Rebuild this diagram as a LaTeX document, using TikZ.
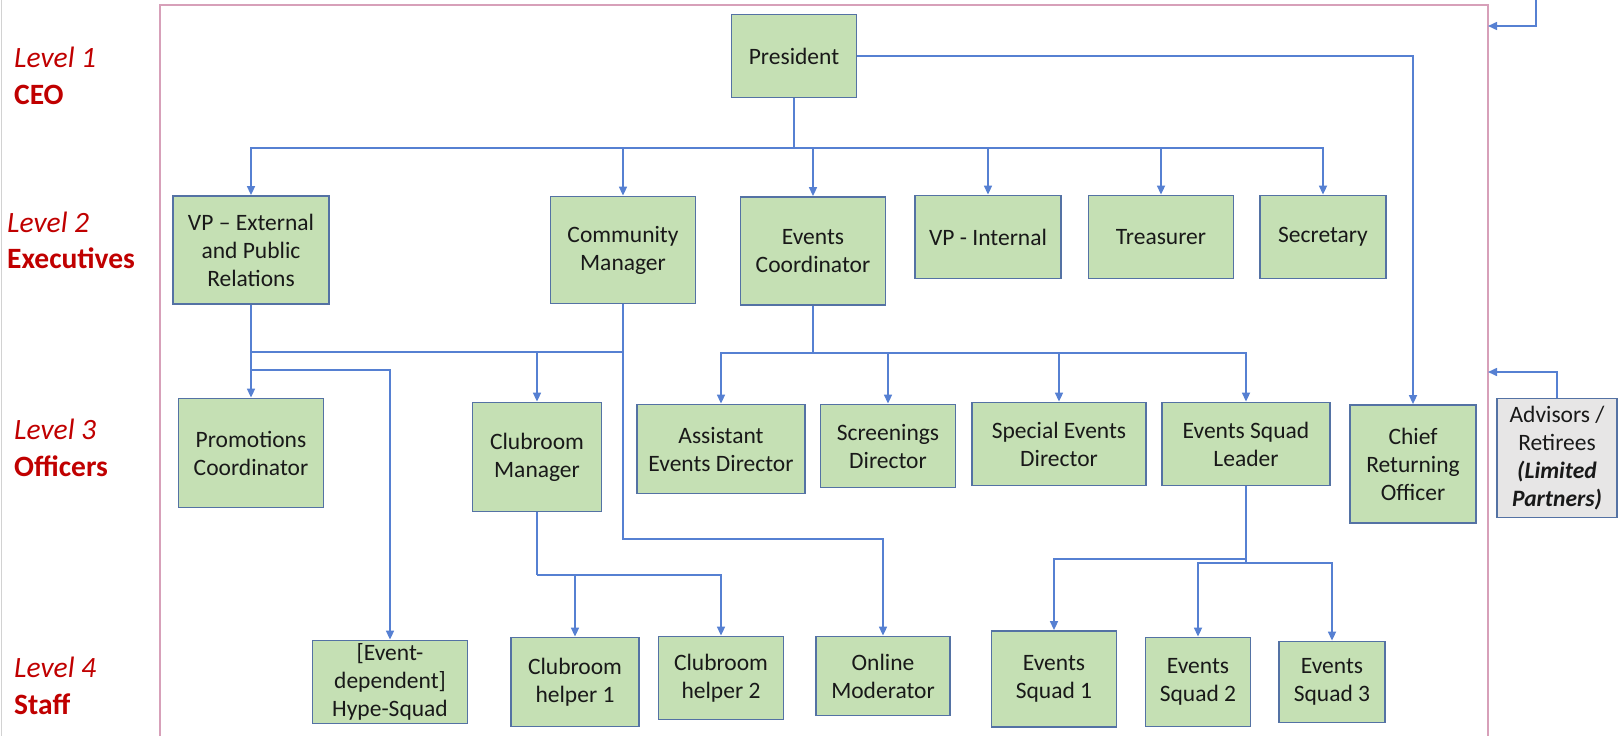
\documentclass[tikz,border=0pt]{standalone}
\usepackage{fontspec}
\setmainfont{Carlito}
\usetikzlibrary{arrows.meta}
\definecolor{postfill}{RGB}{197,224,180}
\definecolor{postline}{RGB}{84,114,164}
\definecolor{advfill}{RGB}{231,230,230}
\definecolor{wireblue}{RGB}{86,128,210}
\definecolor{framepink}{RGB}{215,160,185}
\definecolor{levelred}{RGB}{192,0,0}
\tikzset{
	post/.style={draw=postline,fill=postfill,line width=1.8pt,inner sep=0pt,align=center,font=\fontsize{23.5}{28}\selectfont,text=black!90},%
	advisor/.style={post,fill=advfill},%
	boxdim/.style 2 args={minimum width=#1pt,minimum height=#2pt},%
	wire/.style={wireblue,line width=1.6pt},%
	conn/.style={wire,-{Triangle[length=9pt,width=8pt]}},%
	frame/.style={framepink,line width=2pt},%
	levelno/.style={levelred,anchor=base west,inner sep=0pt,font=\fontsize{29.5}{35}\selectfont\itshape},%
	levelname/.style={levelred,anchor=base west,inner sep=0pt,font=\fontsize{29.5}{35}\selectfont\bfseries},%
}

\begin{document}
\begin{tikzpicture}[x=1pt,y=-1pt]
	\useasboundingbox (0,0) rectangle (1619,736);
	\draw[gray!35,line width=1pt] (1,0) -- (1,736);
	% Frame {{{
	\draw[frame] (160,736) -- (160,5) -- (1488,5) -- (1488,736);
	% }}}
	% Levels {{{
	\node[levelno] (lvA) at (14,67) {Level 1};
	\node[levelname] (rlA) at (14,104) {CEO};
	\node[levelno] (lvB) at (7,232) {Level 2};
	\node[levelname] (rlB) at (7,268) {Executives};
	\node[levelno] (lvC) at (14,439) {Level 3};
	\node[levelname] (rlC) at (14,476) {Officers};
	\node[levelno] (lvD) at (14,677) {Level 4};
	\node[levelname] (rlD) at (14,714) {Staff};
	% }}}
	% Posts {{{
	\node[post,boxdim={125}{83}] (pres) at (794,56) {President};
	\node[post,boxdim={156}{108}] (vpext) at (251,250) {VP -- External\\and Public\\Relations};
	\node[post,boxdim={145}{107}] (comm) at (623,250) {Community\\Manager};
	\node[post,boxdim={145}{108}] (evco) at (813,251) {Events\\Coordinator};
	\node[post,boxdim={146}{83}] (vpint) at (988,237) {VP - Internal};
	\node[post,boxdim={145}{83}] (treas) at (1161,237) {Treasurer};
	\node[post,boxdim={126}{83}] (secr) at (1323,237) {Secretary};
	\node[post,boxdim={145}{109}] (promo) at (251,453) {Promotions\\Coordinator};
	\node[post,boxdim={129}{109}] (cmgr) at (537,457) {Clubroom\\Manager};
	\node[post,boxdim={168}{89}] (aed) at (721,449) {Assistant\\Events Director};
	\node[post,boxdim={135}{83}] (scr) at (888,446) {Screenings\\Director};
	\node[post,boxdim={174}{83}] (sed) at (1059,444) {Special Events\\Director};
	\node[post,boxdim={168}{83}] (esl) at (1246,444) {Events Squad\\Leader};
	\node[post,boxdim={126}{118}] (cro) at (1413,464) {Chief\\Returning\\Officer};
	\node[advisor,boxdim={120}{119}] (adv) at (1557,458) {Advisors /\\Retirees\\\textbf{\textit{(Limited}}\\\textbf{\textit{Partners)}}};
	\node[post,boxdim={155}{83}] (hype) at (390,682) {{[}Event-\\dependent{]}\\Hype-Squad};
	\node[post,boxdim={128}{89}] (help1) at (575,682) {Clubroom\\helper 1};
	\node[post,boxdim={125}{83}] (help2) at (721,678) {Clubroom\\helper 2};
	\node[post,boxdim={134}{79}] (onmod) at (883,676) {Online\\Moderator};
	\node[post,boxdim={125}{96}] (sq1) at (1054,679) {Events\\Squad 1};
	\node[post,boxdim={105}{89}] (sq2) at (1198,682) {Events\\Squad 2};
	\node[post,boxdim={106}{81}] (sq3) at (1332,682) {Events\\Squad 3};
	% }}}
	% President {{{
	\coordinate (jp) at (794,148);
	\draw[wire,line width=2pt] (pres.south) -- (jp);
	\foreach \n in {vpext,comm,evco,vpint,treas,secr}
		\draw[conn] (jp) -| (\n.north);
	\draw[conn] (pres.east) -| (cro.north);
	% }}}
	% VP and community {{{
	\coordinate (jv) at (623,352);
	\coordinate (jh) at (390,370);
	\coordinate (jm) at (623,539);
	\draw[wire] (vpext.south) |- (jv);
	\draw[conn] (vpext.south) -- (promo.north);
	\draw[conn] (vpext.south) |- (jh) -- (hype.north);
	\draw[conn] (jv) -| (cmgr.north);
	\draw[conn] (comm.south) -- (jm) -| (onmod.north);
	% }}}
	% Events {{{
	\coordinate (je) at (813,353);
	\draw[wire] (evco.south) -- (je);
	\foreach \n in {aed,scr,sed,esl}
		\draw[conn] (je) -| (\n.north);
	\coordinate (js) at (1246,559);
	\coordinate (jt) at (1246,563);
	\draw[wire] (esl.south) -- (jt);
	\draw[conn] (js) -| (sq1.north);
	\foreach \n in {sq2,sq3}
		\draw[conn] (jt) -| (\n.north);
	% }}}
	% Clubroom {{{
	\coordinate (jc) at (537,575);
	\draw[wire] (cmgr.south) -- (jc);
	\foreach \n in {help1,help2}
		\draw[conn] (jc) -| (\n.north);
	% }}}
	% Outside the frame {{{
	\coordinate (outer) at (1536,0);
	\coordinate (ftop) at (1488,26);
	\coordinate (fadv) at (1488,372);
	\draw[conn] (outer) |- (ftop);
	\draw[conn] (adv.north) |- (fadv);
	% }}}
\end{tikzpicture}
\end{document}
